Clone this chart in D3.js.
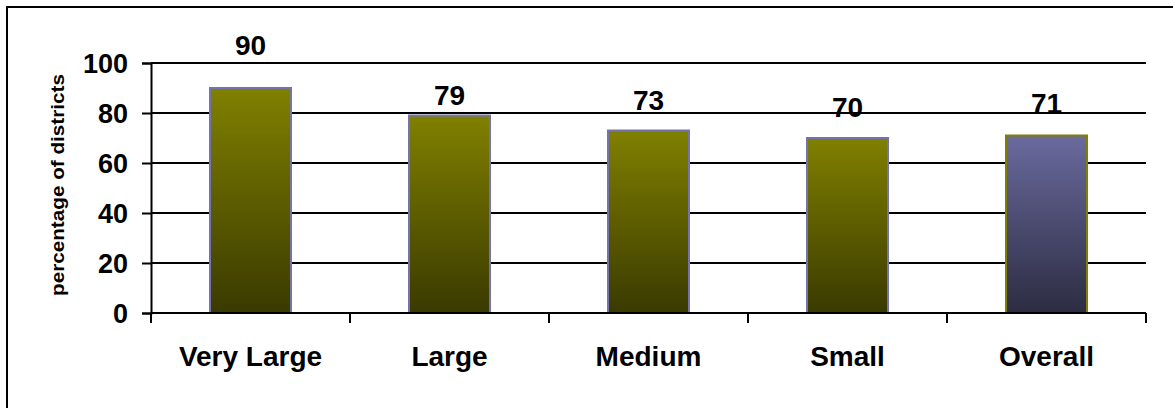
<!DOCTYPE html>
<html>
<head>
<meta charset="utf-8">
<script src="https://cdn.jsdelivr.net/npm/d3@7"></script>
<style>
  html, body { margin: 0; padding: 0; background: #fff; }
  svg { display: block; }
  text { font-family: "Liberation Sans", Arial, sans-serif; font-weight: bold; fill: #000; }
</style>
</head>
<body>
<svg id="chart" width="1173" height="408"></svg>
<script>
// ---- data ----
const categories = ["Very Large", "Large", "Medium", "Small", "Overall"];
const values = [90, 79, 73, 70, 71];
const labelAnchors = [103.2, 83.2, 81.2, 78.4, 80]; // value-label baselines, in data units
const yTicks = [0, 20, 40, 60, 80, 100];
const yTitle = "percentage of districts";

// ---- layout ----
const svg = d3.select("#chart");
const plotLeft = 151, plotRight = 1146, plotTop = 63, plotBottom = 313;

// outer frame (extends past the picture on right/bottom)
svg.append("rect").attr("x", 7).attr("y", 7).attr("width", 1180).attr("height", 420)
  .attr("fill", "none").attr("stroke", "#000").attr("stroke-width", 2);

const x = d3.scaleBand().domain(categories).range([plotLeft, plotRight])
  .paddingInner(0.593).paddingOuter(0.2965);
const y = d3.scaleLinear().domain([0, 100]).range([plotBottom, plotTop]);

// gradients
const defs = svg.append("defs");
const g1 = defs.append("linearGradient").attr("id", "olive").attr("x1", 0).attr("y1", 0).attr("x2", 0).attr("y2", 1);
g1.append("stop").attr("offset", "0%").attr("stop-color", "#808000");
g1.append("stop").attr("offset", "100%").attr("stop-color", "#3a3a00");
const g2 = defs.append("linearGradient").attr("id", "slate").attr("x1", 0).attr("y1", 0).attr("x2", 0).attr("y2", 1);
g2.append("stop").attr("offset", "0%").attr("stop-color", "#6a6a9e");
g2.append("stop").attr("offset", "100%").attr("stop-color", "#2c2c42");

// gridlines
svg.append("g").selectAll("line").data(yTicks.filter(d => d > 0)).join("line")
  .attr("x1", plotLeft).attr("x2", plotRight)
  .attr("y1", d => y(d)).attr("y2", d => y(d))
  .attr("stroke", "#000").attr("stroke-width", 2);

// y axis
const yAxis = svg.append("g").attr("transform", `translate(${plotLeft},0)`)
  .call(d3.axisLeft(y).tickValues(yTicks).tickSize(9).tickPadding(14));
yAxis.select(".domain").attr("stroke", "#000").attr("stroke-width", 2);
yAxis.selectAll(".tick line").attr("stroke", "#000").attr("stroke-width", 2);
yAxis.selectAll(".tick text").style("font-size", "27px").attr("dy", "0.36em")
  .style("font-family", '"Liberation Sans", Arial, sans-serif').style("font-weight", "bold");

// bars
svg.append("g").selectAll("rect").data(values).join("rect")
  .attr("x", (d, i) => x(categories[i]))
  .attr("y", d => y(d))
  .attr("width", x.bandwidth())
  .attr("height", d => y(0) - y(d))
  .attr("fill", (d, i) => categories[i] === "Overall" ? "url(#slate)" : "url(#olive)")
  .attr("stroke", (d, i) => categories[i] === "Overall" ? "#808000" : "#7474aa")
  .attr("stroke-width", 2);

// x axis
const xBoundary = d3.scaleLinear().domain([0, categories.length]).range([plotLeft, plotRight]);
svg.append("line").attr("x1", plotLeft).attr("x2", plotRight).attr("y1", plotBottom).attr("y2", plotBottom)
  .attr("stroke", "#000").attr("stroke-width", 2);
svg.append("g").selectAll("line").data(d3.range(categories.length + 1)).join("line")
  .attr("x1", d => xBoundary(d)).attr("x2", d => xBoundary(d))
  .attr("y1", plotBottom).attr("y2", plotBottom + 10)
  .attr("stroke", "#000").attr("stroke-width", 2);
svg.append("g").selectAll("text").data(categories).join("text")
  .attr("x", d => x(d) + x.bandwidth() / 2)
  .attr("y", 366)
  .attr("text-anchor", "middle")
  .style("font-size", "28px")
  .text(d => d);

// value labels
svg.append("g").selectAll("text").data(values).join("text")
  .attr("x", (d, i) => x(categories[i]) + x.bandwidth() / 2)
  .attr("y", (d, i) => y(labelAnchors[i]))
  .attr("text-anchor", "middle")
  .style("font-size", "28px")
  .text(d => d);

// y title
svg.append("text")
  .attr("transform", `translate(64,185) rotate(-90)`)
  .attr("text-anchor", "middle")
  .attr("textLength", 222)
  .attr("lengthAdjust", "spacingAndGlyphs")
  .style("font-size", "18px")
  .text(yTitle);
</script>
</body>
</html>
